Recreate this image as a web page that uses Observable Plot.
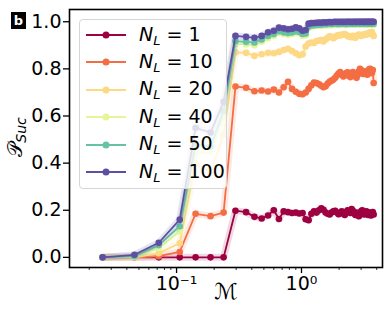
<!DOCTYPE html>
<html><head><meta charset="utf-8">
<script src="https://cdn.jsdelivr.net/npm/d3@7"></script>
<script src="https://cdn.jsdelivr.net/npm/@observablehq/plot@0.6"></script>
<style>
body{margin:0;background:#fff;font-family:"DejaVu Sans",sans-serif;}
#wrap{position:relative;width:392px;height:313px;overflow:hidden;}
#legend{position:absolute;left:79px;top:19px;width:148px;height:170px;border:1px solid #d6d6d6;border-radius:4px;background:rgba(255,255,255,0.8);box-sizing:border-box;}
.row{position:absolute;left:0;height:20px;display:flex;align-items:center;font-size:19px;color:#000;white-space:nowrap;}
.row svg{margin-left:5px;margin-right:12px;}
.row sub{font-size:13px;vertical-align:-4px;}
#ylab{position:absolute;left:-14px;top:124px;width:60px;text-align:center;transform:rotate(-90deg);font-size:20px;}
#ylab sub{font-size:14px;font-style:italic;vertical-align:-4px;}
#xlab{position:absolute;left:214px;top:279px;font-size:22px;}
#tag{position:absolute;left:11px;top:12px;width:15px;height:17px;background:#000;color:#fff;font-weight:bold;font-size:13px;text-align:center;line-height:17px;}
</style></head>
<body><div id="wrap"></div>
<script>
// M values (x)
const mValues = [0.0256,0.046,0.072,0.106,0.142,0.187,0.238,
 0.296,0.36,0.42,0.48,0.54,0.60,0.66,0.72,0.78,0.84,0.90,0.96,1.02,1.08,1.14,1.20,1.26,1.32,1.38,1.44,
 1.50,1.56,1.62,1.68,1.74,1.80,1.86,1.92,1.98,2.04,2.10,2.16,2.22,2.28,2.34,2.40,2.46,2.52,2.58,2.64,
 2.70,2.76,2.82,2.88,2.94,3.00,3.06,3.12,3.18,3.24,3.30,3.36,3.42,3.48,3.54,3.60,3.66,3.72,3.78];
const nL = [1,10,20,40,50,100];
const p1 = [0,0,0,0,0,0,0,
 0.198,0.192,0.172,0.165,0.178,0.200,0.163,0.195,0.192,0.188,0.190,0.186,0.188,0.162,0.158,0.185,0.196,0.190,0.200,0.208,
 0.202,0.190,0.185,0.182,0.190,0.195,0.198,0.190,0.183,0.186,0.195,0.190,0.180,0.192,0.200,0.195,0.188,0.205,0.198,0.186,
 0.180,0.190,0.185,0.175,0.182,0.195,0.200,0.190,0.182,0.188,0.196,0.192,0.180,0.185,0.190,0.178,0.186,0.192,0.182];
const p10 = [0,0,0.005,0.023,0.185,0.175,0.190,
 0.725,0.720,0.705,0.708,0.704,0.712,0.700,0.722,0.745,0.715,0.703,0.694,0.692,0.700,0.715,0.730,0.742,0.740,0.735,0.728,
 0.722,0.726,0.738,0.745,0.750,0.755,0.762,0.772,0.780,0.786,0.778,0.768,0.774,0.782,0.785,0.770,0.765,0.775,0.786,0.776,
 0.768,0.762,0.775,0.790,0.800,0.795,0.785,0.778,0.784,0.790,0.782,0.775,0.786,0.798,0.800,0.790,0.782,0.795,0.740];
const p20 = [0,0,0.018,0.060,0.400,0.360,0.520,
 0.870,0.868,0.855,0.862,0.868,0.866,0.872,0.880,0.885,0.876,0.866,0.858,0.862,0.895,0.908,0.912,0.910,0.918,0.920,0.922,
 0.916,0.925,0.932,0.938,0.936,0.930,0.935,0.940,0.944,0.942,0.946,0.945,0.948,0.944,0.940,0.936,0.938,0.934,0.940,0.936,
 0.932,0.938,0.942,0.946,0.944,0.940,0.943,0.946,0.944,0.948,0.945,0.950,0.948,0.952,0.955,0.950,0.956,0.946,0.940];
const p40 = [0,0.003,0.040,0.110,0.440,0.450,0.600,
 0.905,0.905,0.900,0.915,0.930,0.940,0.952,0.948,0.945,0.948,0.952,0.950,0.940,0.942,0.975,0.980,0.981,0.982,0.984,0.983,
 0.985,0.984,0.985,0.986,0.985,0.986,0.987,0.986,0.987,0.986,0.988,0.987,0.986,0.987,0.988,0.987,0.986,0.988,0.987,0.988,
 0.987,0.988,0.987,0.986,0.988,0.987,0.988,0.989,0.987,0.988,0.989,0.988,0.987,0.988,0.989,0.988,0.989,0.988,0.987];
const p50 = [0,0.005,0.052,0.132,0.480,0.470,0.620,
 0.918,0.915,0.912,0.925,0.940,0.948,0.960,0.955,0.952,0.955,0.960,0.957,0.948,0.950,0.980,0.984,0.985,0.986,0.988,0.987,
 0.990,0.989,0.990,0.991,0.990,0.991,0.992,0.991,0.990,0.992,0.991,0.992,0.991,0.990,0.992,0.991,0.992,0.993,0.991,0.992,
 0.991,0.992,0.993,0.992,0.991,0.992,0.993,0.992,0.991,0.993,0.992,0.991,0.993,0.992,0.993,0.992,0.991,0.993,0.992];
const p100 = [0,0.011,0.062,0.160,0.550,0.530,0.660,
 0.940,0.936,0.932,0.940,0.955,0.962,0.975,0.972,0.968,0.970,0.976,0.972,0.962,0.965,0.992,0.994,0.995,0.996,0.997,0.996,
 0.998,0.997,0.998,0.999,0.998,0.999,1.000,0.999,1.000,0.999,1.000,0.999,1.000,0.999,1.000,1.000,0.999,1.000,0.999,1.000,
 1.000,0.999,1.000,1.000,0.999,1.000,1.000,0.999,1.000,1.000,0.999,1.000,1.000,0.999,1.000,1.000,0.999,1.000,1.000];
const seriesValues = [p1,p10,p20,p40,p50,p100];
const yTicks = [0,0.2,0.4,0.6,0.8,1.0];
const xMajorTicks = [0.1,1];
const xMinorTicks = [0.02,0.03,0.04,0.05,0.06,0.07,0.08,0.09,0.2,0.3,0.4,0.5,0.6,0.7,0.8,0.9,2,3,4];
const xTickLabels = {0.1:"10\u207B\u00B9", 1:"10\u2070"};

const colors = ["#9e0142","#f46d43","#fdd985","#e6f598","#66c2a5","#5e4fa2"];

const marks = [];
nL.forEach((n,i)=>{
  const rows = mValues.map((m,j)=>({m, p: seriesValues[i][j]}));
  marks.push(Plot.line(rows,{x:"m",y:"p",stroke:colors[i],strokeWidth:7,strokeOpacity:0.15}));
  marks.push(Plot.line(rows,{x:"m",y:"p",stroke:colors[i],strokeWidth:1.8}));
  marks.push(Plot.dot(rows,{x:"m",y:"p",fill:colors[i],r:3.3}));
});

const chart = Plot.plot({
  width:392,height:313,
  marginLeft:69,marginRight:10,marginTop:9,marginBottom:46,
  style:{fontFamily:"DejaVu Sans",fontSize:"19px",color:"#000",background:"transparent"},
  x:{type:"log",domain:[0.0139,4.45],axis:null},
  y:{domain:[-0.043,1.052],axis:null},
  marks:[
    ...marks,
    Plot.axisY({ticks:yTicks,tickFormat:d=>d.toFixed(1),tickSize:6,tickPadding:2,strokeWidth:1.3,fontSize:19,label:null}),
    Plot.axisX({ticks:xMinorTicks,tickFormat:()=>"",tickSize:3,strokeWidth:0.8,label:null}),
    Plot.axisX({ticks:xMajorTicks,tickFormat:d=>xTickLabels[d],tickSize:6,tickPadding:3,strokeWidth:1.3,fontSize:19,label:null}),
    Plot.frame({stroke:"#000",strokeWidth:1.6})
  ]
});
const wrap = document.getElementById("wrap");
wrap.appendChild(chart);

// legend
const legend = document.createElement("div");
legend.id = "legend";
nL.forEach((n,i)=>{
  const row = document.createElement("div");
  row.className = "row";
  row.style.top = (5 + i*27.4) + "px";
  row.innerHTML = `<svg width="42" height="12"><line x1="1" y1="6" x2="41" y2="6" stroke="${colors[i]}" stroke-width="2"/><circle cx="21" cy="6" r="3.5" fill="${colors[i]}"/></svg><span><i>N</i><sub><i>L</i></sub> = ${n}</span>`;
  legend.appendChild(row);
});
wrap.appendChild(legend);

const ylab = document.createElement("div");
ylab.id = "ylab";
ylab.innerHTML = "\uD835\uDCAB<sub>Suc</sub>";
wrap.appendChild(ylab);
const xlab = document.createElement("div");
xlab.id = "xlab";
xlab.textContent = "\u2133";
wrap.appendChild(xlab);
const tag = document.createElement("div");
tag.id = "tag";
tag.textContent = "b";
wrap.appendChild(tag);
</script></body></html>
